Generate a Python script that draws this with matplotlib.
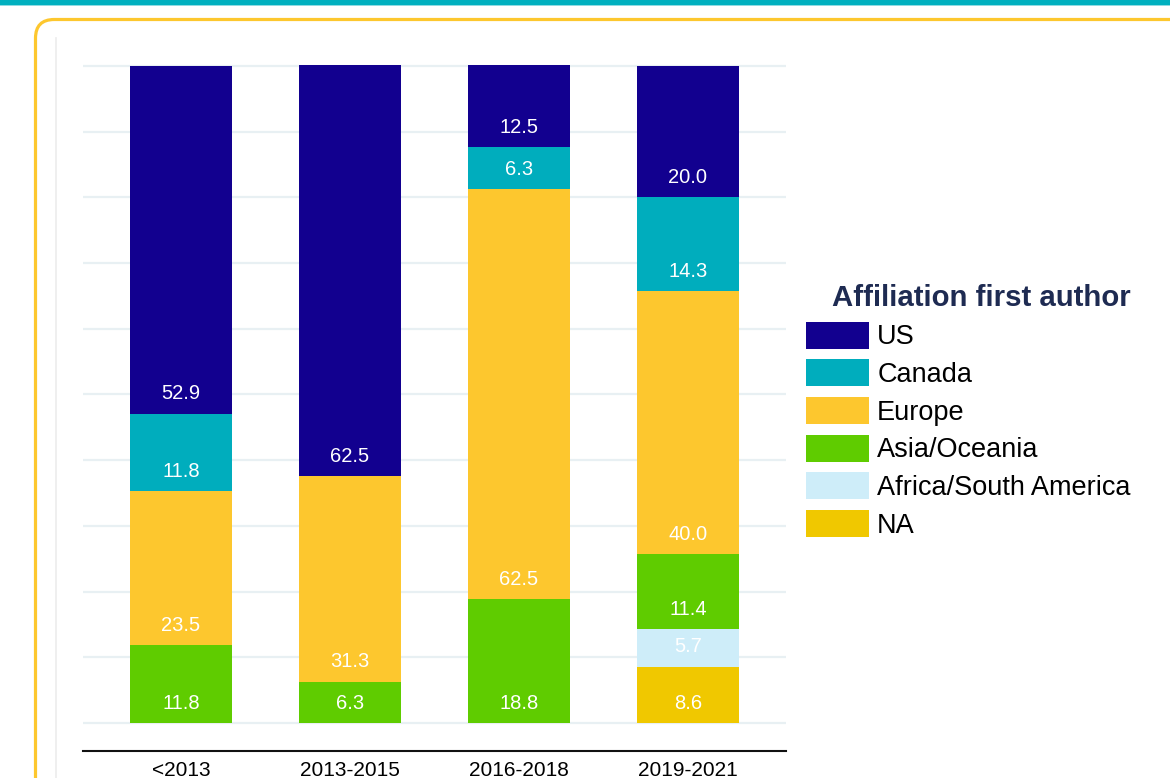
import matplotlib
matplotlib.use("Agg")
import matplotlib.pyplot as plt
from matplotlib.patches import FancyBboxPatch, Rectangle, Patch
from matplotlib.lines import Line2D
import numpy as np

plt.rcParams['font.family'] = ['Liberation Sans', 'DejaVu Sans']

periods = ["<2013", "2013-2015", "2016-2018", "2019-2021"]
# stacking order from bottom to top
regions = ["NA", "Africa/South America", "Asia/Oceania", "Europe", "Canada", "US"]
na_vals = [0, 0, 0, 8.6]
africa_vals = [0, 0, 0, 5.7]
asia_vals = [11.8, 6.3, 18.8, 11.4]
europe_vals = [23.5, 31.3, 62.5, 40.0]
canada_vals = [11.8, 0, 6.3, 14.3]
us_vals = [52.9, 62.5, 12.5, 20.0]
series = [na_vals, africa_vals, asia_vals, europe_vals, canada_vals, us_vals]
colors = ["#f0c800", "#ceedf9", "#5fcc00", "#fdc72e", "#00adbd", "#12008f"]
legend_order = ["US", "Canada", "Europe", "Asia/Oceania", "Africa/South America", "NA"]

W, H = 1170, 778
fig = plt.figure(figsize=(W / 100, H / 100), dpi=100)

# decorations
fig.patches.append(Rectangle((0, 1 - 5 / H), 1, 5 / H, transform=fig.transFigure,
                             facecolor="#00b0bf", edgecolor="none", zorder=0))
fig.patches.append(Rectangle((0, 1 - 6 / H), 1, 1 / H, transform=fig.transFigure,
                             facecolor="#8fdbe2", edgecolor="none", zorder=0))
fig.patches.append(FancyBboxPatch((35.5 / W, -0.2), 1.2, (H - 19.5) / H + 0.2,
                                  boxstyle="round,pad=0,rounding_size=0.016",
                                  transform=fig.transFigure, facecolor="none",
                                  edgecolor="#fdc72e", linewidth=2.3, zorder=0,
                                  mutation_aspect=W / H))
fig.lines.append(Line2D([55.5 / W, 55.5 / W], [0, 1 - 38 / H], transform=fig.transFigure,
                        color="#ececec", linewidth=1.2, zorder=0))

ax = fig.add_axes([83 / W, 1 - 751 / H, (786 - 83) / W, (751 - 63) / H])
x = np.arange(len(periods))
bottom = np.zeros(len(periods))
for name, vals, col in zip(regions, series, colors):
    vals = np.array(vals, dtype=float)
    ax.bar(x, vals, bottom=bottom, width=0.6, color=col, edgecolor="none", zorder=3)
    for xi, b, v in zip(x, bottom, vals):
        if v > 0:
            ax.text(xi, b + 3.0, f"{v:.1f}", ha="center", va="center",
                    color="white", fontsize=14.5, zorder=4)
    bottom += vals

ax.set_xlim(-0.58, 3.58)
ax.set_ylim(-4.26, 100.45)
ax.set_yticks(np.arange(0, 101, 10))
ax.set_yticklabels([])
ax.tick_params(axis="y", length=0)
ax.grid(axis="y", color="#e8f0f3", linewidth=1.6, zorder=0)
ax.set_xticks(x)
ax.set_xticklabels(periods, fontsize=15, color="black")
ax.tick_params(axis="x", length=0, pad=7.5)
for s in ["top", "right", "left"]:
    ax.spines[s].set_visible(False)
ax.spines["bottom"].set_color("#111111")
ax.spines["bottom"].set_linewidth(1.5)
ax.set_facecolor("none")

leg = fig.legend([Patch(facecolor=colors[regions.index(n)], edgecolor="none") for n in legend_order],
                 legend_order, loc="upper left", bbox_to_anchor=(806 / W, 1 - 284 / H),
                 frameon=False, fontsize=19.5, handlelength=2.33, handleheight=1.15,
                 handletextpad=0.3, labelspacing=0.335, borderpad=0, borderaxespad=0,
                 title="Affiliation first author", alignment="right",
                 title_fontproperties={"weight": "bold", "size": 21.2})
leg.get_title().set_color("#1e2b52")
leg._legend_box.sep = 7

fig.savefig("out.png", dpi=100)
